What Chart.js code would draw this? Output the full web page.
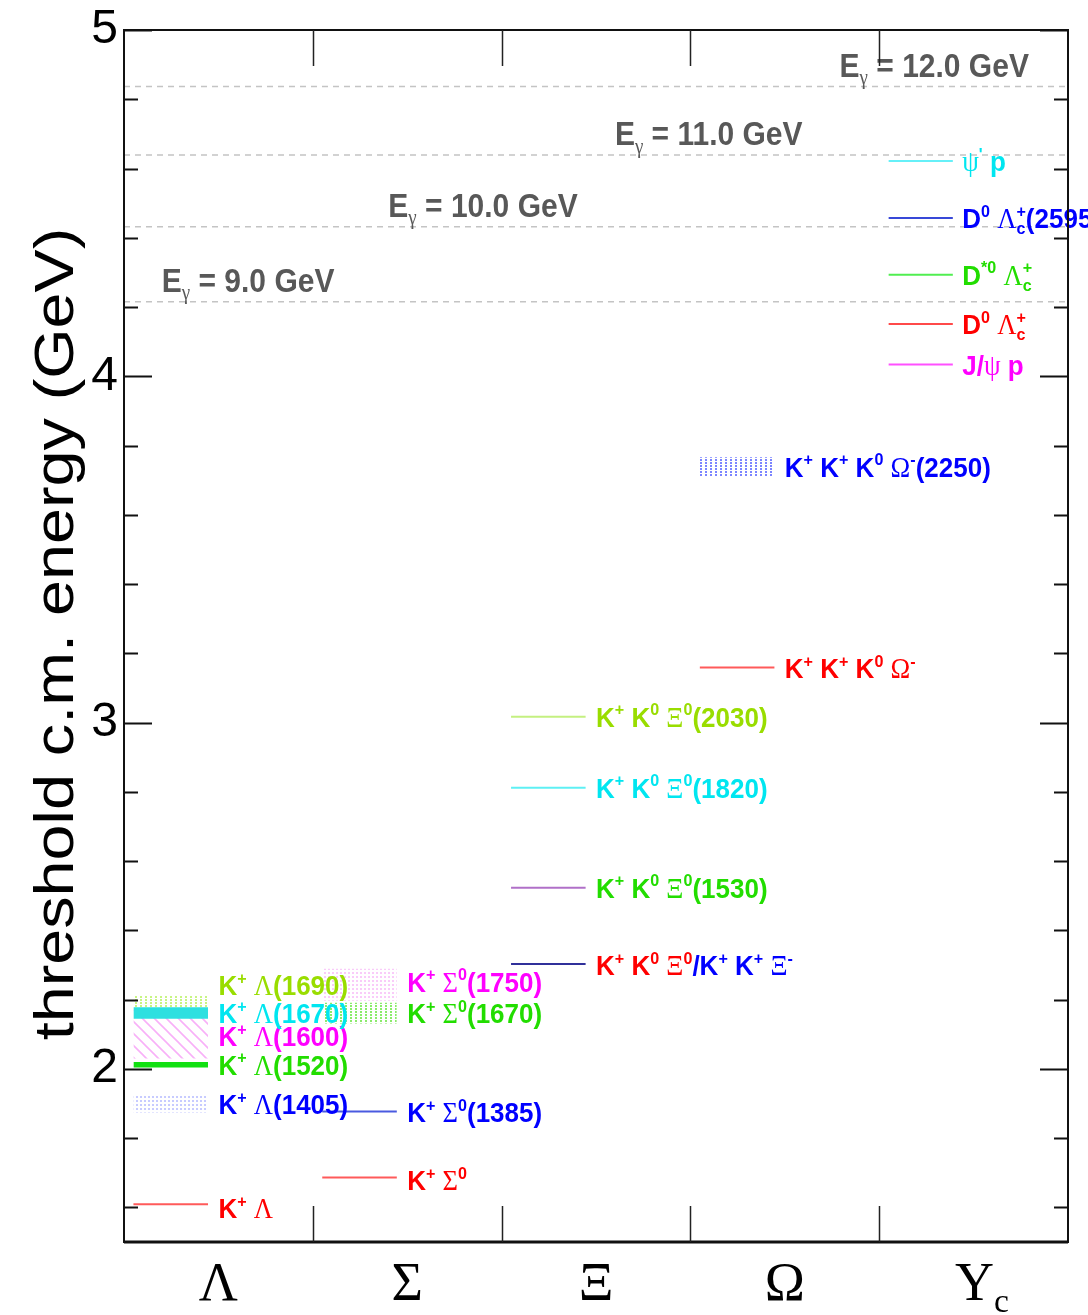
<!DOCTYPE html>
<html>
<head>
<meta charset="utf-8">
<title>Strangeness and charm photoproduction thresholds</title>
<script src="https://cdn.jsdelivr.net/npm/chart.js@4/dist/chart.umd.min.js"></script>
<style>
  html, body { margin: 0; padding: 0; background: #ffffff; }
  #wrap { width: 1088px; height: 1315px; }
</style>
</head>
<body>
<div id="wrap"><canvas id="chart" width="1088" height="1315"></canvas></div>
<script>
// ---- data -------------------------------------------------------------
// hyperon families along the x axis
const columnNames = ['Λ', 'Σ', 'Ξ', 'Ω', 'Y_{c}'];

// final states drawn as a single threshold line (GeV)
const lineStates = [
  'K^{+} Λ', 'K^{+} Σ^{0}', 'K^{+} Σ^{0}(1385)',
  'K^{+} K^{0} Ξ^{0}|/K^{+} K^{+} Ξ^{-}', 'K^{+} K^{0} Ξ^{0}(1530)',
  'K^{+} K^{0} Ξ^{0}(1820)', 'K^{+} K^{0} Ξ^{0}(2030)',
  'K^{+} K^{+} K^{0} Ω^{-}',
  'J/ψ p', 'D^{0} Λ_{c}^{+}', 'D^{*0} Λ_{c}^{+}', 'D^{0} Λ_{c}^{+}(2595)', "ψ^{'} p"
];
const lineColumn = [0, 1, 1, 2, 2, 2, 2, 3, 4, 4, 4, 4, 4];
const lineThreshold = [1.609, 1.686, 1.877, 2.303, 2.523, 2.812, 3.017, 3.159,
                       4.034, 4.151, 4.293, 4.457, 4.622];

// final states with a broad resonance, drawn as a band low..high (GeV)
const bandStates = [
  'K^{+} Λ(1405)', 'K^{+} Λ(1520)', 'K^{+} Λ(1600)', 'K^{+} Λ(1670)', 'K^{+} Λ(1690)',
  'K^{+} Σ^{0}(1670)', 'K^{+} Σ^{0}(1750)', 'K^{+} K^{+} K^{0} Ω^{-}(2250)'
];
const bandColumn = [0, 0, 0, 0, 0, 1, 1, 3];
const bandLow  = [1.874, 2.004, 2.030, 2.145, 2.154, 2.131, 2.197, 3.712];
const bandHigh = [1.926, 2.020, 2.170, 2.178, 2.212, 2.191, 2.289, 3.766];

// photon beam energies and the c.m. energy they reach (GeV)
const beamEnergy = [9.0, 10.0, 11.0, 12.0];
const beamThreshold = [4.215, 4.432, 4.639, 4.837];

// y axis ticks
const yTickValues = [1.6, 1.8, 2.0, 2.2, 2.4, 2.6, 2.8, 3.0, 3.2, 3.4, 3.6, 3.8,
                     4.0, 4.2, 4.4, 4.6, 4.8, 5.0];
const yTickLabels = { 2: '2', 3: '3', 4: '4', 5: '5' };
const yTitle = 'threshold c.m. energy (GeV)';

// ---- styles -----------------------------------------------------------
const SANS = '"Liberation Sans", Arial, Helvetica, sans-serif';
const SERIF = '"Liberation Serif", "Times New Roman", serif';
const RED = '#ff0000', BLUE = '#0000ff', GREEN = '#22dd00', LIME = '#99dd00',
      CYAN = '#00e6f0', MAGENTA = '#ff00ff';

const lineColors = ['#ff5a5a', '#ff5a5a', '#4a5ae0', '#30309a', '#b070c8', '#5ef0f4',
                    '#c4f080', '#ff5a5a', '#ff50ff', '#ff4a4a', '#50ee50', '#3848d8', '#66f0f8'];
const lineTextColors = [[RED], [RED], [BLUE], [RED, BLUE], [GREEN], [CYAN], [LIME], [RED],
                        [MAGENTA], [RED], [GREEN], [BLUE], [CYAN]];
const lineLabelShift = [4, 3, 1, 1, 0, 0, 0, 1, 1, 0, 0, 0, 0];

const bandFills = [
  ['dots', 'rgba(130,140,255,0.45)'],
  ['solid', '#11e011'],
  ['hatch', 'rgba(245,150,245,0.75)'],
  ['solid', '#2ee0e0'],
  ['vstripes', 'rgba(180,240,90,0.75)'],
  ['vstripes', 'rgba(110,230,70,0.8)'],
  ['dots', 'rgba(245,170,245,0.6)'],
  ['vstripes', 'rgba(100,110,255,0.85)']
];
const bandDrawOrder = [5, 3, 7, 4, 6, 5, 5, 5];
const bandTextColors = [[BLUE], [GREEN], [MAGENTA], [CYAN], [LIME], [GREEN], [MAGENTA], [BLUE]];
const bandLabelShift = [1, 0, 2, 0, -20, 0, -3, 0];

// horizontal layout inside each column (in x-axis units)
const markStart = 0.05, markEnd = 0.445, labelStart = 0.5;
const markEndLast = 0.39, labelStartLast = 0.44;
const beamLabelX = [0.2, 1.4, 2.6, 3.79];

// ---- helpers ----------------------------------------------------------
function makePattern(kind, color) {
  const c = document.createElement('canvas');
  const g = c.getContext('2d');
  if (kind === 'dots') {
    c.width = 4; c.height = 4;
    g.fillStyle = color; g.fillRect(0, 0, 2, 2);
  } else if (kind === 'vstripes') {
    c.width = 5; c.height = 3;
    g.fillStyle = color; g.fillRect(0, 0, 2, 2);
  } else if (kind === 'hatch') {
    c.width = 12; c.height = 12;
    g.strokeStyle = color; g.lineWidth = 1.6;
    g.beginPath();
    g.moveTo(-2, -2); g.lineTo(14, 14);
    g.moveTo(-14, -2); g.lineTo(2, 14);
    g.moveTo(10, -2); g.lineTo(26, 14);
    g.stroke();
  }
  return g.createPattern(c, 'repeat');
}

const GREEK = /([\u0370-\u03FF]+)/;

// draws text with ^{..} superscripts and _{..} subscripts; '|' switches colour.
// Greek letters are set in a light serif face, as in the symbol font.
function drawRich(ctx, str, x, baseY, size, colors, weight, family) {
  let cx = x;
  str.split('|').forEach((part, pi) => {
    ctx.fillStyle = colors[Math.min(pi, colors.length - 1)];
    const toks = part.split(/(\^\{[^}]*\}|_\{[^}]*\})/).filter(s => s.length);
    let prev = null;
    toks.forEach(t => {
      let kind = 'n', txt = t;
      if (t.startsWith('^{')) { kind = 'sup'; txt = t.slice(2, -1); }
      else if (t.startsWith('_{')) { kind = 'sub'; txt = t.slice(2, -1); }
      const s = kind === 'n' ? size : size * 0.62;
      let sx = cx;
      if (prev && kind !== 'n' && prev.kind !== 'n' && prev.kind !== kind) sx = prev.startX;
      const dy = kind === 'sup' ? -size * 0.40 : (kind === 'sub' ? size * 0.22 : 0);
      let px = sx;
      txt.split(GREEK).filter(r => r.length).forEach(run => {
        const greek = GREEK.test(run) && family === SANS;
        ctx.font = greek ? `normal ${s * 1.02}px ${SERIF}` : `${weight} ${s}px ${family}`;
        ctx.fillText(run, px, baseY + dy);
        px += ctx.measureText(run).width;
      });
      cx = Math.max(cx, px);
      prev = { kind, startX: sx };
    });
  });
  return cx - x;
}

// text stretched vertically about its baseline
function drawTall(ctx, str, x, baseY, size, colors, weight, family, stretch) {
  ctx.save();
  ctx.translate(0, baseY);
  ctx.scale(1, stretch);
  drawRich(ctx, str, x, 0, size, colors, weight, family);
  ctx.restore();
}

// ---- datasets ---------------------------------------------------------
const datasets = [];

beamThreshold.forEach(v => {
  datasets.push({
    data: [{ x: 0, y: v }, { x: 5, y: v }],
    borderColor: '#c4c4c4', borderWidth: 1.5, borderDash: [6, 5],
    pointRadius: 0, fill: false, order: 20
  });
});

bandStates.forEach((name, i) => {
  const c = bandColumn[i];
  const end = c === 4 ? markEndLast : markEnd;
  const [kind, color] = bandFills[i];
  datasets.push({
    label: name,
    data: [{ x: c + markStart, y: bandHigh[i] }, { x: c + end, y: bandHigh[i] }],
    borderColor: 'rgba(0,0,0,0)', borderWidth: 0, pointRadius: 0,
    backgroundColor: kind === 'solid' ? color : makePattern(kind, color),
    fill: { value: bandLow[i] },
    order: bandDrawOrder[i]
  });
});

lineStates.forEach((name, i) => {
  const c = lineColumn[i];
  const end = c === 4 ? markEndLast : markEnd;
  datasets.push({
    label: name,
    data: [{ x: c + markStart, y: lineThreshold[i] }, { x: c + end, y: lineThreshold[i] }],
    borderColor: lineColors[i], borderWidth: 2, pointRadius: 0, fill: false, order: 1
  });
});

// ---- decorations: labels, frame, ticks, axis title ---------------------
const decorations = {
  id: 'decorations',
  afterDatasetsDraw(chart) {
    const { ctx, chartArea: a, scales: { x, y } } = chart;
    ctx.save();
    ctx.textBaseline = 'alphabetic';
    ctx.textAlign = 'left';

    // beam-energy annotations above the dashed lines
    beamEnergy.forEach((e, i) => {
      const px = x.getPixelForValue(beamLabelX[i]);
      const py = y.getPixelForValue(beamThreshold[i]) - 21 + 0.38 * 30;
      drawTall(ctx, 'E_{γ} = ' + e.toFixed(1) + ' GeV', px, py, 30, ['#585858'], 'bold', SANS, 1.1);
    });

    const LS = 26;
    lineStates.forEach((name, i) => {
      const c = lineColumn[i];
      const px = x.getPixelForValue(c + (c === 4 ? labelStartLast : labelStart));
      const py = y.getPixelForValue(lineThreshold[i]) + lineLabelShift[i] + 0.38 * LS;
      drawTall(ctx, name, px, py, LS, lineTextColors[i], 'bold', SANS, 1.08);
    });
    bandStates.forEach((name, i) => {
      const c = bandColumn[i];
      const px = x.getPixelForValue(c + (c === 4 ? labelStartLast : labelStart));
      const mid = (bandLow[i] + bandHigh[i]) / 2;
      const py = y.getPixelForValue(mid) + bandLabelShift[i] + 0.38 * LS;
      drawTall(ctx, name, px, py, LS, bandTextColors[i], 'bold', SANS, 1.08);
    });

    // frame
    ctx.strokeStyle = '#111';
    ctx.lineWidth = 2;
    ctx.strokeRect(a.left, a.top, a.right - a.left, a.bottom - a.top);
    ctx.lineWidth = 3;
    ctx.beginPath(); ctx.moveTo(a.left, a.bottom); ctx.lineTo(a.right, a.bottom); ctx.stroke();

    // y ticks on both sides
    ctx.lineWidth = 2;
    ctx.beginPath();
    yTickValues.forEach(v => {
      const py = Math.round(y.getPixelForValue(v)) + 0.5;
      const len = yTickLabels[v] ? 28 : 14;
      ctx.moveTo(a.left, py); ctx.lineTo(a.left + len, py);
      ctx.moveTo(a.right - len, py); ctx.lineTo(a.right, py);
    });
    ctx.stroke();

    // column boundary ticks top and bottom
    ctx.lineWidth = 1.5;
    ctx.strokeStyle = '#222';
    ctx.beginPath();
    for (let b = 1; b < columnNames.length; b++) {
      const px = Math.round(x.getPixelForValue(b)) + 0.5;
      ctx.moveTo(px, a.top); ctx.lineTo(px, a.top + 36);
      ctx.moveTo(px, a.bottom - 36); ctx.lineTo(px, a.bottom);
    }
    ctx.stroke();

    // column names
    columnNames.forEach((n, i) => {
      ctx.font = `54px ${SERIF}`;
      const plain = n.replace(/_\{[^}]*\}/g, '');
      const extra = plain.length < n.length ? 10 : 0;
      const w = ctx.measureText(plain).width + extra;
      const px = x.getPixelForValue(i + 0.5) - w / 2 + (extra ? 6 : 0);
      drawRich(ctx, n, px, a.bottom + 58, 54, ['#000'], 'normal', SERIF);
    });

    // y axis title, rotated and drawn along the axis
    ctx.save();
    ctx.translate(73, (a.top + a.bottom) / 2 - 2);
    ctx.rotate(-Math.PI / 2);
    ctx.scale(1.155, 1);
    ctx.font = `56px ${SANS}`;
    ctx.fillStyle = '#000';
    ctx.textAlign = 'center';
    ctx.fillText(yTitle, 0, 0);
    ctx.restore();

    ctx.restore();
  }
};

// ---- chart ------------------------------------------------------------
new Chart(document.getElementById('chart'), {
  type: 'line',
  data: { datasets },
  options: {
    responsive: false,
    animation: false,
    events: [],
    layout: { padding: { top: 30, right: 20, left: 0, bottom: 0 } },
    plugins: { legend: { display: false }, tooltip: { enabled: false }, title: { display: false } },
    scales: {
      x: {
        type: 'linear', min: 0, max: 5,
        grid: { display: false }, border: { display: false },
        ticks: { display: false },
        afterFit(s) { s.height = 73; s.paddingLeft = 0; s.paddingRight = 0; }
      },
      y: {
        type: 'linear', min: 1.5, max: 5,
        grid: { display: false, drawTicks: false }, border: { display: false },
        afterBuildTicks(s) { s.ticks = yTickValues.map(v => ({ value: v })); },
        ticks: {
          autoSkip: false, padding: 6, color: '#000',
          font: { family: SANS, size: 48 },
          callback: v => yTickLabels[v] || ''
        },
        afterFit(s) { s.width = 124; s.paddingTop = 0; s.paddingBottom = 0; }
      }
    }
  },
  plugins: [decorations]
});
</script>
</body>
</html>
